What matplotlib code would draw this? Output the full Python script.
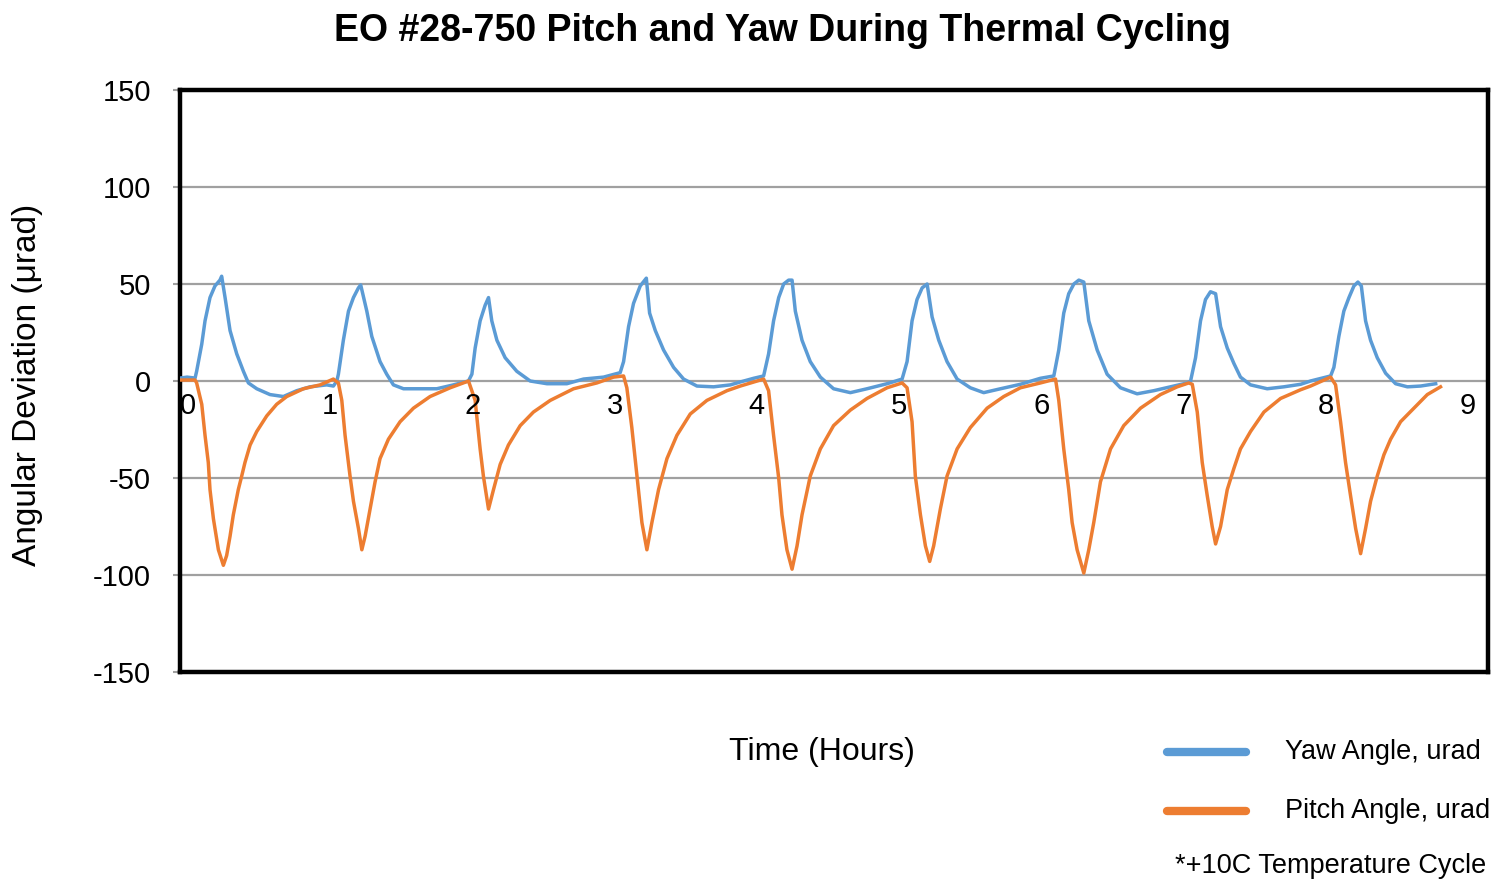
import numpy as np
import matplotlib
matplotlib.use("Agg")
import matplotlib.pyplot as plt
from matplotlib.lines import Line2D

plt.rcParams['font.family'] = ['DejaVu Sans Condensed', 'Liberation Sans', 'DejaVu Sans']

# Yaw angle (urad), time in hours
yaw_t = [0.0, 0.05, 0.106, 0.117, 0.153, 0.176, 0.211, 0.246, 0.281, 0.293, 0.317, 0.352,
         0.399, 0.446, 0.481, 0.54, 0.633, 0.727, 0.821, 0.915, 1.032, 1.079, 1.103,
         1.114, 1.149, 1.185, 1.22, 1.255, 1.271, 1.314, 1.349, 1.407, 1.454, 1.501,
         1.572, 1.689, 1.806, 1.923, 2.029, 2.053, 2.076, 2.111, 2.146, 2.17, 2.193,
         2.229, 2.287, 2.369, 2.463, 2.581, 2.721, 2.838, 2.979, 3.096, 3.12, 3.155,
         3.19, 3.237, 3.28, 3.303, 3.343, 3.401, 3.472, 3.542, 3.636, 3.753, 3.871,
         3.941, 4.035, 4.105, 4.14, 4.175, 4.211, 4.246, 4.281, 4.305, 4.328, 4.375,
         4.433, 4.504, 4.597, 4.715, 4.832, 4.973, 5.079, 5.114, 5.149, 5.184, 5.22,
         5.255, 5.29, 5.337, 5.395, 5.466, 5.559, 5.653, 5.771, 5.911, 6.052, 6.146,
         6.181, 6.216, 6.251, 6.287, 6.322, 6.357, 6.392, 6.451, 6.521, 6.615, 6.732,
         6.849, 6.967, 7.084, 7.108, 7.143, 7.178, 7.213, 7.248, 7.284, 7.319, 7.366,
         7.413, 7.459, 7.53, 7.647, 7.764, 7.882, 7.952, 8.093, 8.116, 8.151, 8.186,
         8.222, 8.257, 8.285, 8.309, 8.339, 8.374, 8.421, 8.48, 8.55, 8.633, 8.726, 8.832]
yaw_v = [1.5, 2.0, 1.5, 5, 19, 31, 43, 49, 52, 54, 43, 26,
         14, 5, -1, -4, -7, -8, -5, -3, -2, -2.6, 0,
         3.5, 21, 36, 43, 48, 49.5, 36, 23, 10, 3.5, -2,
         -4, -4, -4, -2, 0, 3.5, 17, 31, 39, 43, 31,
         21, 12, 5, 0, -1.4, -1.4, 1, 2, 4.3, 10, 28,
         40, 49, 53, 35, 26, 16, 7, 1, -2.6, -3, -2,
         -0.5, 1.4, 2.6, 14, 31, 43, 50, 52, 52, 36, 21,
         10, 2, -4, -6, -4, -1.4, 1, 10, 31, 42, 48,
         50, 33, 21, 10, 1, -3.5, -6, -4, -1.7, 1.4, 2.6,
         16, 35, 45, 50, 52, 51, 31, 16, 3.5, -3.5, -6.6,
         -5, -3, -1, 0, 12, 31, 42, 46, 45, 28, 17,
         9, 2, -2, -4, -3, -1.7, 0, 2.6, 7, 23, 36,
         43, 49, 51, 49, 31, 21, 12, 4, -1.4, -3, -2.6, -1.4]

# Pitch angle (urad)
pitch_t = [0.0, 0.106, 0.117, 0.153, 0.176, 0.199, 0.211, 0.235, 0.27, 0.305, 0.328, 0.352,
           0.375, 0.41, 0.434, 0.457, 0.493, 0.54, 0.61, 0.68, 0.751, 0.868, 0.985, 1.079,
           1.114, 1.138, 1.161, 1.196, 1.22, 1.255, 1.279, 1.302, 1.337, 1.372, 1.407,
           1.466, 1.548, 1.642, 1.759, 1.9, 2.029, 2.076, 2.111, 2.134, 2.17, 2.205, 2.252,
           2.31, 2.393, 2.486, 2.604, 2.768, 2.932, 3.049, 3.12, 3.143, 3.178, 3.214, 3.249,
           3.284, 3.319, 3.366, 3.425, 3.495, 3.589, 3.706, 3.847, 3.941, 4.105, 4.14,
           4.175, 4.211, 4.234, 4.269, 4.305, 4.34, 4.375, 4.433, 4.504, 4.597, 4.715,
           4.832, 4.973, 5.079, 5.114, 5.149, 5.172, 5.208, 5.243, 5.273, 5.301, 5.348,
           5.395, 5.466, 5.559, 5.677, 5.794, 5.911, 6.052, 6.158, 6.181, 6.216, 6.251,
           6.275, 6.31, 6.357, 6.392, 6.427, 6.474, 6.545, 6.638, 6.756, 6.896, 7.014,
           7.095, 7.12, 7.155, 7.19, 7.225, 7.26, 7.284, 7.319, 7.366, 7.413, 7.459, 7.53,
           7.624, 7.741, 7.882, 7.952, 8.093, 8.128, 8.163, 8.198, 8.233, 8.269, 8.304,
           8.339, 8.374, 8.421, 8.468, 8.515, 8.585, 8.679, 8.773, 8.866]
pitch_v = [0.5, 0.5, -1, -12, -28, -42, -56, -71, -87, -95, -90, -80,
           -69, -56, -49, -42, -33, -26, -18, -12, -8, -4, -2, 1,
           -1, -10, -28, -49, -62, -76, -87, -80, -66, -52, -40,
           -30, -21, -14, -8, -3.5, 0, -10, -35, -49, -66, -56, -43,
           -33, -23, -16, -10, -4, -1, 2, 2.6, -3.5, -24, -49, -73,
           -87, -73, -56, -40, -28, -17, -10, -5, -2.6, 1, -5,
           -28, -50, -69, -87, -97, -85, -69, -49, -35, -23, -15,
           -9, -3.5, -1, -3.5, -21, -49, -69, -85, -93, -85, -66,
           -49, -35, -24, -14, -8, -3.5, -1, 1, -10, -35, -56,
           -73, -87, -99, -87, -73, -52, -35, -23, -14, -7, -3,
           -1, -1.7, -16, -42, -59, -75, -84, -75, -56, -45, -35, -26,
           -16, -9, -4.5, -2.6, 2, -2, -21, -42, -59, -76, -89,
           -76, -62, -49, -38, -30, -21, -14, -7, -3]

hour_ticks = list(range(10))
y_ticks = [-150, -100, -50, 0, 50, 100, 150]

yaw_color = '#5B9BD5'
pitch_color = '#ED7D31'
grid_color = '#A0A0A0'

fig = plt.figure(figsize=(14.93, 8.91), dpi=100)
ax = fig.add_axes([180 / 1493, 1 - 672 / 891, 1308 / 1493, 582 / 891])

ax.set_xlim(0, 9.2)
ax.set_ylim(-150, 150)
ax.set_yticks(y_ticks)
ax.set_yticklabels([str(v) for v in y_ticks], fontsize=21)
ax.set_xticks([])
ax.yaxis.grid(True, color=grid_color, linewidth=1.6)
ax.set_axisbelow(True)
ax.tick_params(axis='y', length=5, width=1.5, color=grid_color, pad=16)
for s in ax.spines.values():
    s.set_linewidth(3.2)
    s.set_color('black')

ax.plot(yaw_t, yaw_v, color=yaw_color, linewidth=2.5, zorder=3)
ax.plot(pitch_t, pitch_v, color=pitch_color, linewidth=2.5, zorder=3)

# hour labels sit just under the zero line, left-aligned at each hour
for h in hour_ticks:
    ax.text(h, -5.5, str(h), ha='left', va='top', fontsize=21)

fig.text(28 / 1493, 1 - 385 / 891, 'Angular Deviation (\u03bcrad)', rotation=90,
         ha='center', va='center', fontsize=24)
fig.text(822 / 1493, 1 - 752 / 891, 'Time (Hours)', ha='center', va='center', fontsize=23)
fig.text(783 / 1493, 1 - 31 / 891, 'EO #28-750 Pitch and Yaw During Thermal Cycling',
         ha='center', va='center', fontsize=27, fontweight='bold')

# legend drawn by hand at the lower right
for yy, col, lab in [(752, yaw_color, 'Yaw Angle, urad'), (811, pitch_color, 'Pitch Angle, urad')]:
    fig.add_artist(Line2D([1167 / 1493, 1246 / 1493], [1 - yy / 891, 1 - yy / 891],
                          color=col, linewidth=6, solid_capstyle='round',
                          transform=fig.transFigure))
    fig.text(1285 / 1493, 1 - yy / 891, lab, ha='left', va='center', fontsize=19.5)
fig.text(1486 / 1493, 1 - 866 / 891, '*+10C Temperature Cycle', ha='right', va='center', fontsize=19.5)

fig.savefig('out.png', dpi=100)
